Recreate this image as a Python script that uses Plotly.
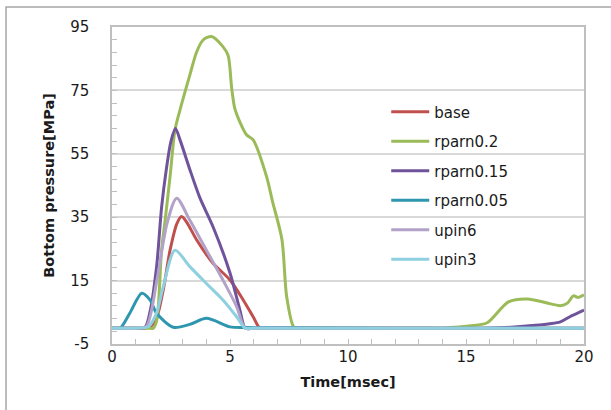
import plotly.graph_objects as go

# ---- data ----
base_t = [0, 1.0, 1.45, 1.82, 2.17, 2.46, 2.75, 2.95, 3.2, 3.59, 4.28, 5.0, 5.56, 5.98, 6.27,
          6.6, 8.0, 12.0, 16.0, 20]
base_v = [0, 0, 0, 2, 12, 24.6, 33, 35.2, 33, 27.8, 20.5, 15.2, 8.9, 3.6, 0,
          0, 0, 0, 0, 0]

r02_t = [0, 1.0, 1.5, 1.75, 1.9, 2.1, 2.25, 2.46, 2.67, 2.88, 3.3, 3.59, 3.86, 4.22, 4.7, 4.92,
         5.07, 5.2, 5.42, 5.7, 5.98, 6.55, 6.8, 7.2, 7.4, 7.7, 7.85, 8.3, 10.0, 12.0, 14.0,
         15.3, 15.9, 16.8, 17.6, 18.4, 19.0, 19.3, 19.55, 19.75, 20]
r02_v = [0, 0, 0, 0, 2.6, 24.6, 34, 47.8, 62.5, 68.8, 79.9, 87.2, 90.9, 92, 88.8, 86,
         75.8, 69.4, 65, 61, 59.4, 47.8, 40, 28, 10, 0.4, 0, 0, 0, 0, 0,
         0.8, 1.7, 8.3, 9.2, 8.0, 7.1, 7.9, 10.2, 9.7, 10.5]

r015_t = [0, 1.0, 1.4, 1.6, 1.89, 2.1, 2.3, 2.5, 2.69, 2.9, 3.3, 3.73, 4.28, 5.0, 5.42,
          5.65, 6.0, 8.0, 12.0, 16.0, 17.8, 19.0, 19.4, 20]
r015_v = [0, 0, 0.3, 4.8, 19.4, 38, 50, 59, 63, 59, 50, 41, 32, 17.4, 5.7,
          0, 0, 0, 0, 0, 0.8, 2.0, 3.6, 5.7]

r005_t = [0, 0.2, 0.35, 0.76, 1.26, 1.6, 1.89, 2.6, 3.3, 4.0, 5.0, 5.6, 6.5, 8.0, 12.0, 16.0, 20]
r005_v = [0, 0, 0, 4.8, 11, 9, 4.7, 0.3, 1.2, 3.1, 0.4, 0.2, 0.1, 0.1, 0, 0, 0]

up6_t = [0, 1.0, 1.45, 1.9, 2.33, 2.74, 3.3, 4.0, 4.7, 5.28, 5.64, 6.0, 8.0, 12.0, 16.0, 20]
up6_v = [0, 0, 0.5, 15, 33, 41, 34, 24.6, 15.2, 6.8, 0, 0, 0, 0, 0, 0]

up3_t = [0, 1.0, 1.55, 1.89, 2.17, 2.67, 3.3, 4.0, 4.7, 5.28, 5.64, 6.0, 8.0, 12.0, 16.0, 20]
up3_v = [0, 0, 0.5, 4.8, 13, 24.6, 19.4, 14.1, 8.9, 3.6, 0, 0, 0, 0, 0, 0]

series_names = ["base", "rparn0.2", "rparn0.15", "rparn0.05", "upin6", "upin3"]
series_t = [base_t, r02_t, r015_t, r005_t, up6_t, up3_t]
series_v = [base_v, r02_v, r015_v, r005_v, up6_v, up3_v]
colors = ["#C0504D", "#9BBB59", "#6F539B", "#2F96B0", "#B3A2C7", "#8ECFE0"]

y_tickvals = [-5, 15, 35, 55, 75, 95]
x_tickvals = [0, 5, 10, 15, 20]

FONT = "DejaVu Sans"

fig = go.Figure()
for name, t, v, c in zip(series_names, series_t, series_v, colors):
    fig.add_trace(go.Scatter(
        x=t, y=v, name=name, mode="lines", legendgroup=name,
        line=dict(color=c, width=3, shape="spline", smoothing=0.8),
    ))

fig.update_layout(
    width=611, height=410,
    margin=dict(l=112, r=27, t=27, b=66),
    paper_bgcolor="white", plot_bgcolor="white",
    font=dict(family=FONT, size=15, color="#1a1a1a"),
    showlegend=True,
    legend=dict(
        x=0.581, y=0.784, xanchor="left", yanchor="top",
        bgcolor="rgba(0,0,0,0)", font=dict(family=FONT, size=15, color="#1a1a1a"),
        tracegroupgap=7, itemwidth=38,
    ),
    xaxis=dict(
        range=[0, 20], tickvals=x_tickvals, ticktext=[str(v) for v in x_tickvals],
        showgrid=False, zeroline=False,
        showline=True, linecolor="#BFBFBF", linewidth=1.5, mirror=True,
        ticks="inside", ticklen=5, tickcolor="#BFBFBF",
        minor=dict(dtick=1, tick0=0, ticks="inside", ticklen=5, tickcolor="#BFBFBF", showgrid=False),
        title=dict(text="<b>Time[msec]</b>", font=dict(family=FONT, size=14.5), standoff=12),
        tickfont=dict(family=FONT, size=15),
        ticklabelstandoff=-2,
    ),
    yaxis=dict(
        range=[-5, 95], tickvals=y_tickvals, ticktext=[str(v) for v in y_tickvals],
        showgrid=True, gridcolor="#D9D9D9", gridwidth=1.5, zeroline=False,
        showline=True, linecolor="#BFBFBF", linewidth=1.5, mirror=True,
        ticks="inside", ticklen=5, tickcolor="#BFBFBF",
        minor=dict(dtick=4, tick0=-5, ticks="inside", ticklen=5, tickcolor="#BFBFBF", showgrid=False),
        title=dict(text="<b>Bottom pressure[MPa]</b>", font=dict(family=FONT, size=14.5), standoff=12),
        tickfont=dict(family=FONT, size=15),
        ticklabelstandoff=18,
    ),
)

# outer chart frame (only top and left edges visible in the reference)
fig.add_shape(type="rect", xref="paper", yref="paper",
              x0=(6 - 112) / 472, x1=(620 - 112) / 472,
              y0=(344 - 420) / 317, y1=(344 - 7) / 317,
              line=dict(color="#A6A6A6", width=1.5), fillcolor="rgba(0,0,0,0)", layer="below")

fig.write_html("out.html", config={"displayModeBar": False},
               post_script="document.body.style.margin='0';")
